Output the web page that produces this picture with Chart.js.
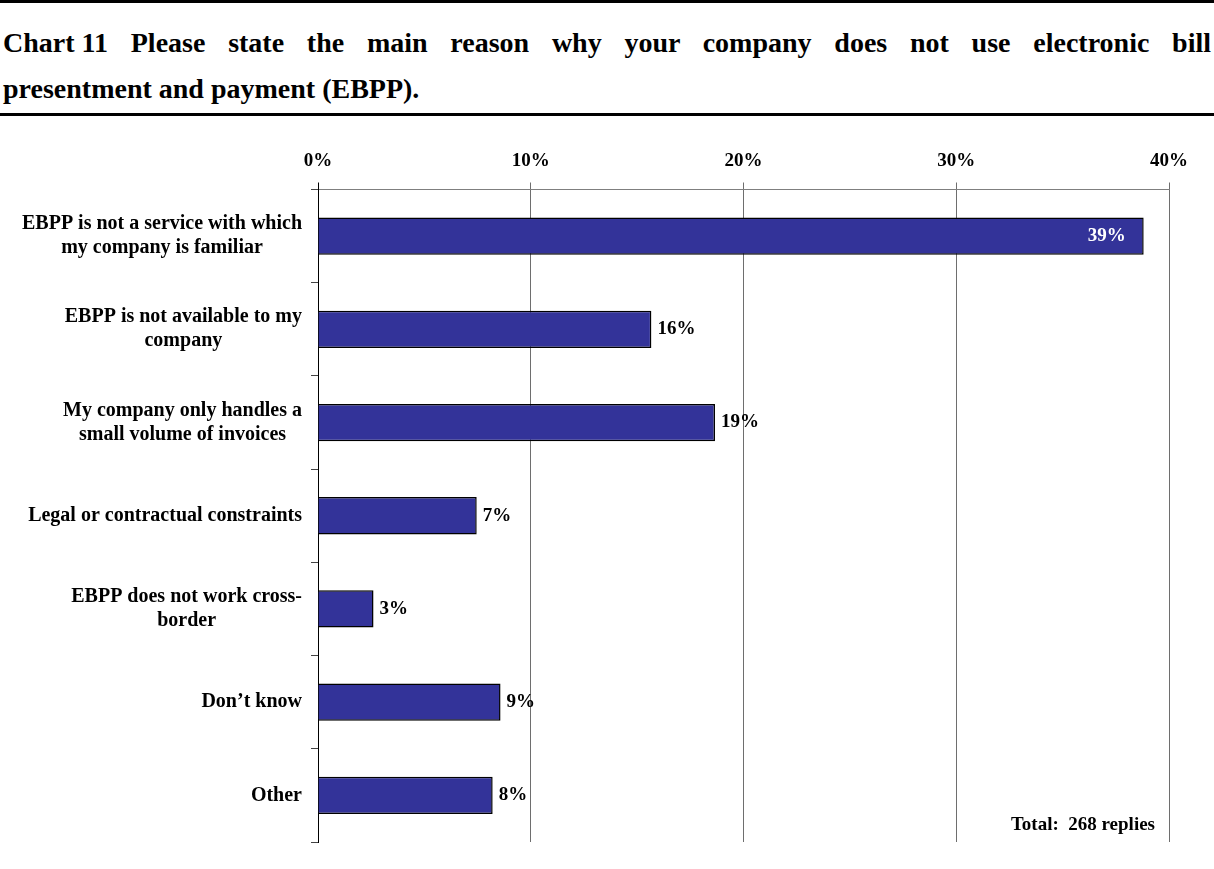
<!DOCTYPE html>
<html>
<head>
<meta charset="utf-8">
<title>Chart 11 – EBPP</title>
<script src="https://cdn.jsdelivr.net/npm/chart.js@4"></script>
<style>
  html, body { margin: 0; padding: 0; background: #fff; }
  body {
    width: 1214px; height: 869px; position: relative; overflow: hidden;
    font-family: 'Liberation Serif', 'Times New Roman', serif;
  }
  #title {
    position: absolute; left: 0; top: 0; width: 1214px; box-sizing: border-box;
    border-top: 3px solid #000; border-bottom: 3px solid #000;
    padding: 17px 3px 1px 3px;
    font-weight: bold; font-size: 28px; line-height: 46px; color: #000;
  }
  #title .l1 { text-align: justify; text-align-last: justify; }
  #title .nb { display: inline-block; }
  #wrap { position: absolute; left: 0; top: 116px; width: 1214px; height: 753px; }
</style>
</head>
<body>
<div id="title">
  <div class="l1"><span class="nb">Chart 11</span> Please state the main reason why your company does not use electronic bill</div>
  <div>presentment and payment (EBPP).</div>
</div>
<div id="wrap"><canvas id="c"></canvas></div>
<script>
// Survey answers (one entry per bar, label lines as drawn)
const categories = [
  ['EBPP is not a service with which', 'my company is familiar'],
  ['EBPP is not available to my', 'company'],
  ['My company only handles a', 'small volume of invoices'],
  ['Legal or contractual constraints'],
  ['EBPP does not work cross-', 'border'],
  ['Don\u2019t know'],
  ['Other']
];
// Share of replies, in percent
const shares = [38.81, 15.67, 18.66, 7.46, 2.61, 8.58, 8.21];
// Percent ticks on the top axis
const axisTicks = [0, 10, 20, 30, 40];
const totalReplies = 268;

const FONT = "'Liberation Serif', 'Times New Roman', serif";
Chart.defaults.font.family = FONT;

// Category names, value labels and the total note
const annotate = {
  id: 'annotate',
  afterDatasetsDraw(chart) {
    const ctx = chart.ctx;
    const ys = chart.scales.y;
    const area = chart.chartArea;
    ctx.save();

    ctx.font = 'bold 20px ' + FONT;
    ctx.fillStyle = '#000';
    ctx.textBaseline = 'middle';
    ctx.textAlign = 'center';
    const lh = 24;
    categories.forEach((lines, i) => {
      const cy = ys.getPixelForValue(i);
      const w = Math.max(...lines.map(l => ctx.measureText(l).width));
      const cx = area.left - 16 - w / 2;
      lines.forEach((l, j) => ctx.fillText(l, cx, cy + (j - (lines.length - 1) / 2) * lh));
    });

    ctx.font = 'bold 19px ' + FONT;
    const meta = chart.getDatasetMeta(0);
    meta.data.forEach((bar, i) => {
      const txt = Math.round(shares[i]) + '%';
      const w = ctx.measureText(txt).width;
      if (bar.x + 6 + w > area.right) {
        ctx.fillStyle = '#fff';
        ctx.textAlign = 'right';
        ctx.fillText(txt, bar.x - 18, bar.y);
      } else {
        ctx.fillStyle = '#000';
        ctx.textAlign = 'left';
        ctx.fillText(txt, bar.x + 6, bar.y);
      }
    });

    ctx.fillStyle = '#000';
    ctx.textAlign = 'right';
    ctx.textBaseline = 'alphabetic';
    ctx.fillText('Total:  ' + totalReplies + ' replies', area.right - 14, area.bottom - 12);
    ctx.restore();
  }
};

new Chart(document.getElementById('c'), {
  type: 'bar',
  data: {
    labels: categories,
    datasets: [{
      data: shares,
      backgroundColor: '#333399',
      borderColor: '#000',
      borderWidth: 1.5,
      categoryPercentage: 1,
      barPercentage: 0.4
    }]
  },
  options: {
    indexAxis: 'y',
    responsive: true,
    maintainAspectRatio: false,
    animation: false,
    layout: { padding: { top: 33.5, right: 45, bottom: 27, left: 0 } },
    plugins: { legend: { display: false }, tooltip: { enabled: false } },
    scales: {
      x: {
        position: 'top',
        min: 0, max: 40,
        afterBuildTicks: s => { s.ticks = axisTicks.map(v => ({ value: v })); },
        afterFit: s => { s.height = 40; },
        ticks: {
          color: '#000',
          font: { size: 19, weight: 'bold' },
          padding: 10,
          maxRotation: 0,
          callback: v => v + '%'
        },
        grid: {
          color: c => (c.index === 0 ? '#000' : '#6e6e6e'),
          lineWidth: 1,
          tickLength: 7
        },
        border: { display: true, color: '#7f7f7f', width: 1 }
      },
      y: {
        afterFit: s => { s.width = 318; },
        ticks: { display: false },
        grid: { drawOnChartArea: false, offset: true, tickLength: 7, color: '#444' },
        border: { display: true, color: '#000', width: 1 }
      }
    }
  },
  plugins: [annotate]
});
</script>
</body>
</html>
